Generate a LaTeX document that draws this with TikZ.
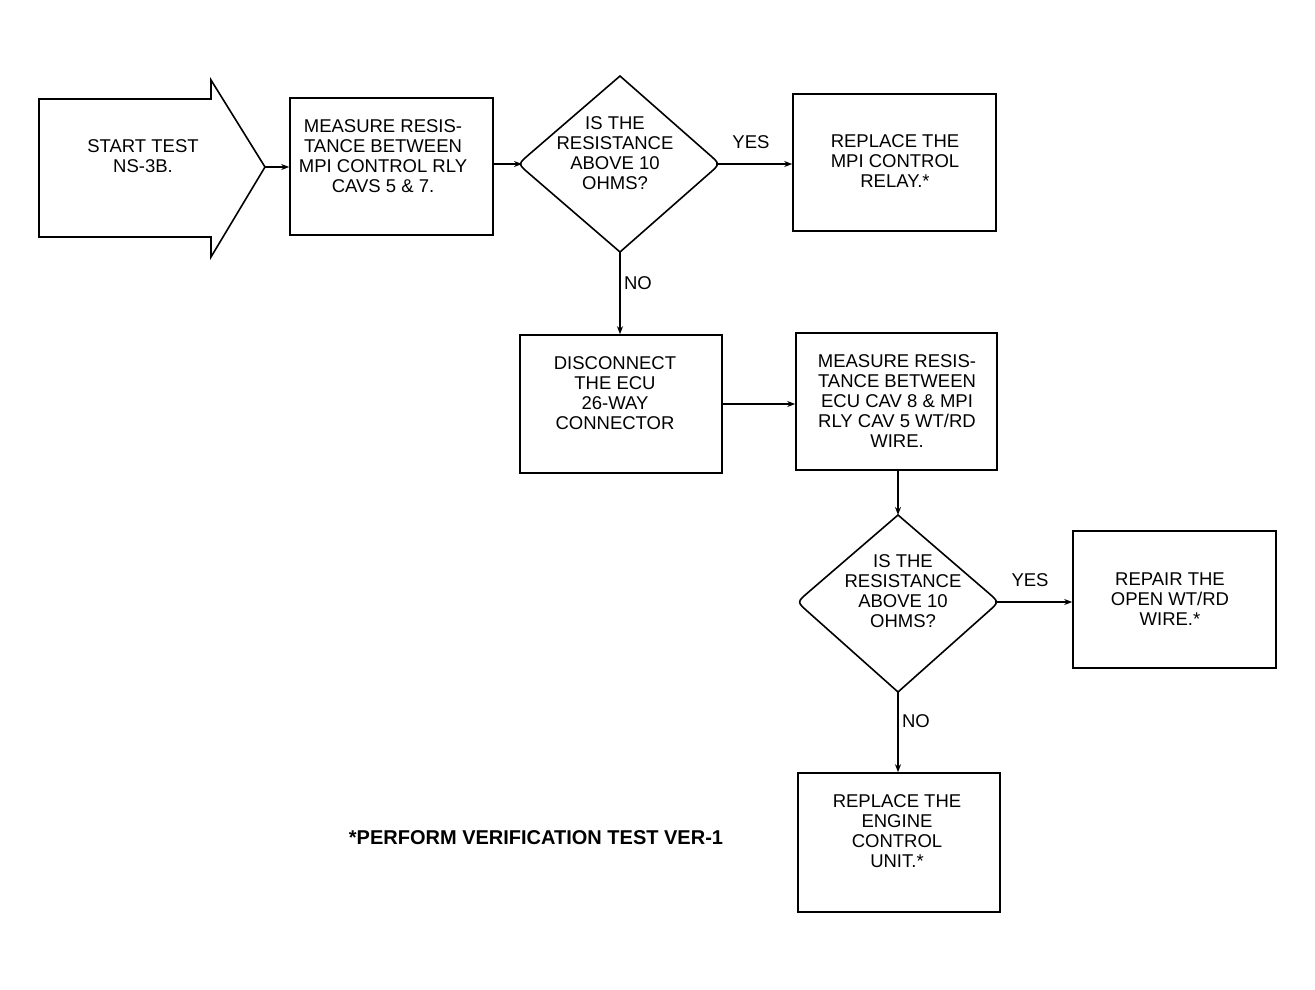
\documentclass[tikz,border=0pt]{standalone}
\usepackage{fontspec}
\setmainfont{Liberation Sans}
\usetikzlibrary{arrows.meta,calc}
\begin{document}
\begin{tikzpicture}[x=1pt,y=-1pt,
  txt/.style={align=center,inner sep=0pt,font=\fontsize{18.5}{20}\selectfont},
  box/.style={draw,line width=1.6pt,rectangle,inner sep=0pt},
  dia/.style={draw,line width=1.6pt,line join=miter},
  conn/.style={line width=1.6pt,-{Stealth[length=8pt,width=6pt]}},
  lbl/.style={font=\fontsize{18.5}{20}\selectfont}]
\useasboundingbox (0,0) rectangle (1315,989);
% start arrow
\draw[line width=1.6pt,line join=miter] (39,99) -- (211,99) -- (211,80) -- (265,167) -- (211,257) -- (211,237) -- (39,237) -- cycle;
\node[txt] (start) at (143,156) {START TEST\\NS-3B.};
\coordinate (starttip) at (265,167);
% boxes
\node[box,minimum width=203pt,minimum height=137pt] (m1) at (391.5,166.5) {};
\node[txt] (m1t) at (383,156) {MEASURE RESIS-\\TANCE BETWEEN\\MPI CONTROL RLY\\CAVS 5 \& 7.};
\node[box,minimum width=203pt,minimum height=137pt] (r1) at (894.5,162.5) {};
\node[txt] (r1t) at (895,161) {REPLACE THE\\MPI CONTROL\\RELAY.*};
\node[box,minimum width=202pt,minimum height=138pt] (dc) at (621,404) {};
\node[txt] (dct) at (615,393) {DISCONNECT\\THE ECU\\26-WAY\\CONNECTOR};
\node[box,minimum width=201pt,minimum height=137pt] (m2) at (896.5,401.5) {};
\node[txt] (m2t) at (897,401) {MEASURE RESIS-\\TANCE BETWEEN\\ECU CAV 8 \& MPI\\RLY CAV 5 WT/RD\\WIRE.};
\node[box,minimum width=203pt,minimum height=137pt] (rp) at (1174.5,599.5) {};
\node[txt] (rpt) at (1170,599) {REPAIR THE\\OPEN WT/RD\\WIRE.*};
\node[box,minimum width=202pt,minimum height=139pt] (ecu) at (899,842.5) {};
\node[txt] (ecut) at (897,831) {REPLACE THE\\ENGINE\\CONTROL\\UNIT.*};
% diamond 1
\coordinate (d1n) at (620,76);
\coordinate (d1e) at (720,164);
\coordinate (d1s) at (620,252);
\coordinate (d1w) at (518,164);
\draw[dia] (d1n) -- ($(d1e)!14pt!(d1n)$) .. controls (d1e) .. ($(d1e)!14pt!(d1s)$) -- (d1s)
  -- ($(d1w)!14pt!(d1s)$) .. controls (d1w) .. ($(d1w)!14pt!(d1n)$) -- cycle;
\node[txt] (d1t) at (615,153) {IS THE\\RESISTANCE\\ABOVE 10\\OHMS?};
% diamond 2
\coordinate (d2n) at (898,515);
\coordinate (d2e) at (999,602);
\coordinate (d2s) at (898,692);
\coordinate (d2w) at (797,602);
\draw[dia] (d2n) -- ($(d2e)!14pt!(d2n)$) .. controls (d2e) .. ($(d2e)!14pt!(d2s)$) -- (d2s)
  -- ($(d2w)!14pt!(d2s)$) .. controls (d2w) .. ($(d2w)!14pt!(d2n)$) -- cycle;
\node[txt] (d2t) at (903,591) {IS THE\\RESISTANCE\\ABOVE 10\\OHMS?};
% footnote
\node[font=\bfseries\fontsize{20}{22}\selectfont,inner sep=0pt] (foot) at (536,838) {*PERFORM VERIFICATION TEST VER-1};
% connectors
\draw[conn] (starttip) -- (m1.west |- starttip);
\draw[conn] (m1.east |- d1w) -- ($(d1w)+(4,0)$);
\draw[conn] ($(d1e)+(-4,0)$) -- (r1.west |- d1e);
\node[lbl] (y1) at (751,142) {YES};
\draw[conn] (d1s) -- (dc.north -| d1s);
\node[lbl] (n1) at (638,283) {NO};
\draw[conn] (dc.east) -- (m2.west |- dc.east);
\draw[conn] (m2.south -| d2n) -- (d2n);
\draw[conn] ($(d2e)+(-4,0)$) -- (rp.west |- d2e);
\node[lbl] (y2) at (1030,580) {YES};
\draw[conn] (d2s) -- (ecu.north -| d2s);
\node[lbl] (n2) at (916,721) {NO};
\end{tikzpicture}
\end{document}
